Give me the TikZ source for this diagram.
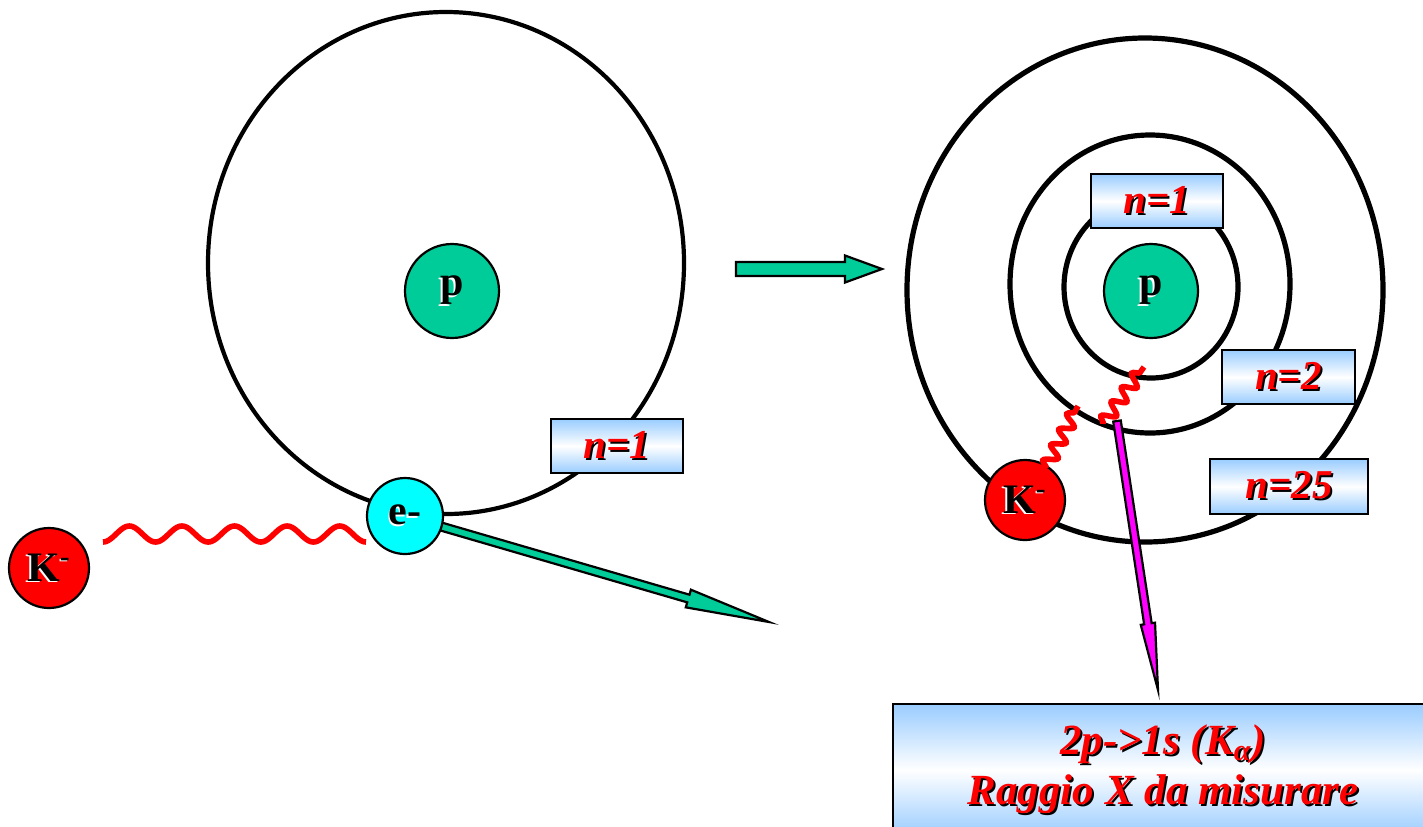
\documentclass[tikz,border=0pt]{standalone}
\usepackage{fontspec}
\setmainfont{Liberation Serif}
\usetikzlibrary{calc,decorations.pathmorphing}

\definecolor{atomgreen}{RGB}{0,204,153}
\definecolor{boxblue}{RGB}{153,204,255}
\definecolor{kred}{RGB}{255,0,0}
\definecolor{elcyan}{RGB}{0,255,255}
\definecolor{xmagenta}{RGB}{255,0,255}

% red label with a dark drop shadow
\newcommand\redlbl[1]{\leavevmode\rlap{\kern1pt\raisebox{-1pt}{\color{black}#1}}{\color{red}#1}}
% black label with a light emboss
\newcommand\balllbl[1]{\leavevmode\rlap{\kern-0.7pt\raisebox{-0.7pt}{\color{white}#1}}{\color{black}#1}}

% block arrow: #1 style, #2 tail, #3 tip, #4 shaft half width, #5 head half width, #6 head length
\newcommand\blockarrow[6]{%
  \coordinate (ba-neck) at ($(#3)!#6!(#2)$);
  \draw[#1] ($(#2)!#4!90:(#3)$) -- ($(ba-neck)!#4!-90:(#2)$) -- ($(ba-neck)!#5!-90:(#2)$)
    -- (#3) -- ($(ba-neck)!#5!90:(#2)$) -- ($(ba-neck)!#4!90:(#2)$) -- ($(#2)!#4!-90:(#3)$) -- cycle;}

\tikzset{
  orbit/.style={draw=black, line width=2.1pt},
  shell/.style={draw=black, line width=2.6pt},
  ball/.style={circle, draw=black, line width=1.1pt, inner sep=0pt,
    font=\fontsize{21}{24}\selectfont\bfseries},
  lvlbox/.style={draw=black, line width=1.3pt, top color=boxblue, bottom color=boxblue,
    middle color=white, inner sep=0pt, minimum height=27pt,
    font=\fontsize{20.5}{24}\selectfont\bfseries\itshape},
  wave/.style={draw=kred, line width=2.8pt},
  squig/.style={wave, decorate, decoration={snake, amplitude=3.2pt, segment length=#1}},
  greenarrow/.style={fill=atomgreen, draw=black, line width=1.1pt, line join=miter},
  magarrow/.style={fill=xmagenta, draw=black, line width=1.1pt, line join=miter},
}

\begin{document}
\begin{tikzpicture}[x=0.5pt, y=-0.5pt]
\useasboundingbox (0,0) rectangle (1423,826);
\clip (0,0) rectangle (1423,826);

% ---- free atom: electron orbit ----
\draw[orbit] (446,263) ellipse [x radius=119pt, y radius=125.5pt];
\node[lvlbox, minimum width=66pt] (n1L) at (617,446) {\redlbl{n=1}};

% ejected electron
\coordinate (ec) at (405,516);
\coordinate (tipL) at (769,622);
\blockarrow{greenarrow}{ec}{tipL}{2pt}{4.6pt}{42pt}

\node[ball, fill=atomgreen, minimum size=47pt] (pL) at (452,291) {\balllbl{p}};
\node[ball, fill=elcyan, minimum size=38pt] (e) at (ec) {\balllbl{e-}};
\node[ball, fill=kred, minimum size=40pt] (KL) at (49,568) {\balllbl{K\textsuperscript{-}}};

% exchanged photon
\coordinate (wl) at (103,534);
\draw[wave, shift={(wl)}] plot[domain=0:5, samples=161, smooth] ({\x*52.6}, {8*cos(360*\x)});

% ---- transition arrow ----
\coordinate (ma) at (736,269);
\coordinate (mb) at (882,269);
\blockarrow{greenarrow}{ma}{mb}{3.5pt}{6.75pt}{18.5pt}

% ---- kaonic atom: shells ----
\draw[shell] (1145,290) ellipse [x radius=119pt, y radius=126pt];
\draw[shell] (1150,284) ellipse [x radius=70pt, y radius=74.5pt];
\draw[shell] (1151,287) ellipse [x radius=43.5pt, y radius=45.5pt];

\node[lvlbox, minimum width=66pt] (n1R) at (1157,201) {\redlbl{n=1}};
\node[lvlbox, minimum width=66.5pt] (n2) at (1288.5,377) {\redlbl{n=2}};
\node[lvlbox, minimum width=79pt, minimum height=27.5pt] (n25) at (1289,486.5) {\redlbl{n=25}};

\node[ball, fill=atomgreen, minimum size=47pt] (pR) at (1151,291) {\balllbl{p}};
\node[ball, fill=kred, minimum size=40pt] (KR) at (1025,500) {\balllbl{K\textsuperscript{-}}};

% cascade photons
\coordinate (s1a) at (1046,468);
\coordinate (s1b) at (1078,406);
\coordinate (s2a) at (1103,424);
\coordinate (s2b) at (1144,367);
\draw[squig=8.7pt] (s1a) -- (s1b);
\draw[squig=8.77pt] (s2a) -- (s2b);

% emitted X ray
\coordinate (xs) at (1117,421);
\coordinate (xt) at (1158,690);
\blockarrow{magarrow}{xs}{xt}{1.9pt}{3.6pt}{33.5pt}

\node[lvlbox, minimum width=270pt, minimum height=66pt, align=center,
  font=\fontsize{21.5}{25}\selectfont\bfseries\itshape] (xray) at (1163,770)
  {\redlbl{2p->1s (K\textsubscript{α})}\\\redlbl{Raggio X da misurare}};
\end{tikzpicture}
\end{document}
